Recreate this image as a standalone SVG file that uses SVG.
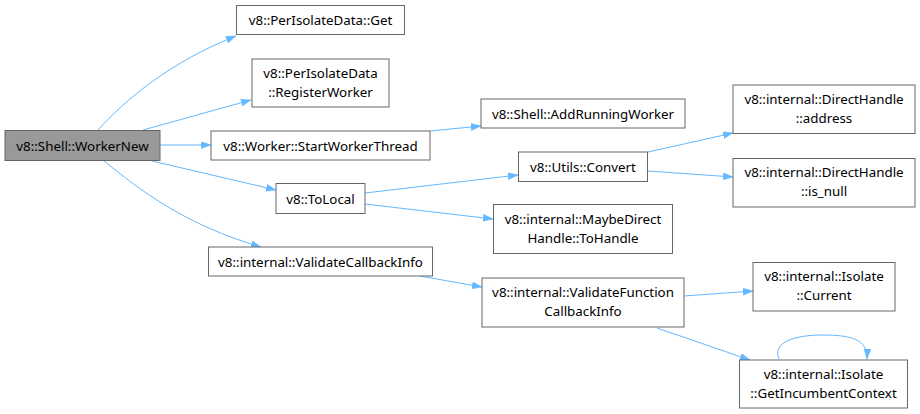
<svg xmlns="http://www.w3.org/2000/svg" width="920" height="414" viewBox="0 0 920 414">
<style>
.n rect{fill:#fff;stroke:#666;stroke-width:1}
.n text{font-family:"Noto Sans","DejaVu Sans",sans-serif;font-size:13.33px;fill:#000;text-anchor:middle}
#edges path{fill:none;stroke:#63b8ff;stroke-width:1;marker-end:url(#a)}
</style>
<defs>
<marker id="a" markerUnits="userSpaceOnUse" markerWidth="11" markerHeight="8" refX="10" refY="3.5" orient="auto">
<path d="M0,0 L10,3.5 L0,7 z" fill="#63b8ff" stroke="#63b8ff" stroke-width="0.5"/>
</marker>
</defs>
<rect width="920" height="414" fill="#fff"/>
<g id="edges">
<path d="M98,130 C125,100 170,62 236,36"/>
<path d="M143,130 L251,100"/>
<path d="M160,145 L211,145"/>
<path d="M152,161 L276,190"/>
<path d="M104,161 C140,190 185,225 261,247"/>
<path d="M430,131 L481,126"/>
<path d="M365,193 L518,175"/>
<path d="M365,204 L493,219"/>
<path d="M648,152 L733,133"/>
<path d="M648,171 L733,177"/>
<path d="M420,276 L482,287"/>
<path d="M684,296 L753,291"/>
<path d="M657,328 L750,360"/>
<path d="M779,359 C772,342 795,335 823,335 C850,335 868,339 867,359"/>
</g>
<g id="n_workernew" class="n"><rect x="5" y="130.5" width="155" height="30" style="fill:#999"/><text x="82.5" y="150.5">v8::Shell::WorkerNew</text></g>
<g id="n_get" class="n"><rect x="236.5" y="5.5" width="168" height="29"/><text x="320.5" y="25">v8::PerIsolateData::Get</text></g>
<g id="n_register" class="n"><rect x="252" y="59" width="137" height="48"/><text x="320.5" y="77.5">v8::PerIsolateData</text><text x="320.5" y="96.5">::RegisterWorker</text></g>
<g id="n_start" class="n"><rect x="211" y="131" width="219" height="29"/><text x="320.5" y="150.5">v8::Worker::StartWorkerThread</text></g>
<g id="n_tolocal" class="n"><rect x="276" y="183.5" width="89" height="30"/><text x="320.5" y="203.5">v8::ToLocal</text></g>
<g id="n_vci" class="n"><rect x="208.5" y="247" width="224" height="29"/><text x="320.5" y="267">v8::internal::ValidateCallbackInfo</text></g>
<g id="n_addrun" class="n"><rect x="481" y="99" width="204" height="29"/><text x="583" y="118.5">v8::Shell::AddRunningWorker</text></g>
<g id="n_convert" class="n"><rect x="518.5" y="152" width="129" height="29.5"/><text x="583" y="171.5">v8::Utils::Convert</text></g>
<g id="n_maybe" class="n"><rect x="493.5" y="204.5" width="179" height="49"/><text x="583" y="223.5">v8::internal::MaybeDirect</text><text x="583" y="242.5">Handle::ToHandle</text></g>
<g id="n_vfci" class="n"><rect x="482" y="278" width="202" height="49"/><text x="583" y="296.5">v8::internal::ValidateFunction</text><text x="583" y="315.5">CallbackInfo</text></g>
<g id="n_address" class="n"><rect x="733" y="85" width="182" height="48.5"/><text x="824" y="103.5">v8::internal::DirectHandle</text><text x="824" y="122.5">::address</text></g>
<g id="n_isnull" class="n"><rect x="733" y="158.5" width="182" height="48.5"/><text x="824" y="177">v8::internal::DirectHandle</text><text x="824" y="196">::is_null</text></g>
<g id="n_current" class="n"><rect x="753" y="262.5" width="142" height="48.5"/><text x="824" y="281">v8::internal::Isolate</text><text x="824" y="300">::Current</text></g>
<g id="n_incumbent" class="n"><rect x="739.5" y="360" width="168" height="48"/><text x="823.5" y="378.5">v8::internal::Isolate</text><text x="823.5" y="397.5">::GetIncumbentContext</text></g>
</svg>
